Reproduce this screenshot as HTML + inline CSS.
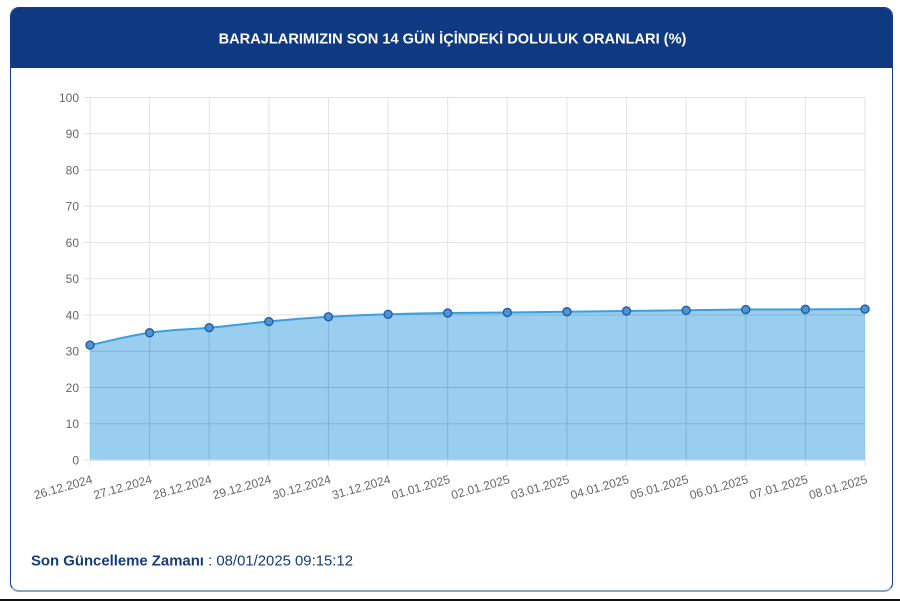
<!DOCTYPE html>
<html>
<head>
<meta charset="utf-8">
<style>
  html,body{margin:0;padding:0;background:#fff;}
  body{width:900px;height:601px;position:relative;overflow:hidden;font-family:"Liberation Sans",Arial,sans-serif;}
  .card{position:absolute;left:10px;top:7px;width:881px;height:582px;border:1.5px solid #123d86;border-bottom:2.5px solid #8aa2c6;border-radius:9px;background:#fff;overflow:hidden;}
  .hdr{position:absolute;left:0;top:0;right:0;height:60px;background:#0f3a82;}
  .bottomline{position:absolute;left:0;top:599px;width:900px;height:2px;background:#111;}
  svg{position:absolute;left:0;top:0;}
</style>
</head>
<body>
<div class="card"><div class="hdr"></div></div>
<div class="bottomline"></div>
<svg width="900" height="601" viewBox="0 0 900 601" xmlns="http://www.w3.org/2000/svg">
  <defs>
    <clipPath id="areaclip">
      <path d="M90,345.09 C113.85,340.16 125.77,336.24 149.62,332.76 C173.47,329.28 185.38,329.94 209.23,327.69 C233.08,325.44 245.0,323.70 268.85,321.52 C292.7,319.34 304.61,318.26 328.46,316.81 C352.31,315.36 364.23,315.03 388.08,314.27 C411.93,313.51 423.84,313.37 447.69,313.01 C471.54,312.65 483.46,312.71 507.31,312.46 C531.16,312.21 543.07,312.03 566.92,311.74 C590.77,311.45 602.69,311.30 626.54,311.01 C650.39,310.72 662.3,310.58 686.15,310.29 C710.0,310.0 721.92,309.74 745.77,309.56 C769.62,309.38 781.53,309.49 805.38,309.38 C829.23,309.27 841.15,309.16 865,309.02 L865,460 L90,460 Z"/>
    </clipPath>
  </defs>
  <text x="452.5" y="43.5" text-anchor="middle" font-family="Liberation Sans, Arial, sans-serif" font-weight="bold" font-size="14.6" fill="#ffffff">BARAJLARIMIZIN SON 14 GÜN İÇİNDEKİ DOLULUK ORANLARI (%)</text>

  <!-- grid -->
  <g stroke="#e3e3e3" stroke-width="1" fill="none">
    <line x1="84" y1="460" x2="865" y2="460"/>
    <line x1="84" y1="423.75" x2="865" y2="423.75"/>
    <line x1="84" y1="387.5" x2="865" y2="387.5"/>
    <line x1="84" y1="351.25" x2="865" y2="351.25"/>
    <line x1="84" y1="315" x2="865" y2="315"/>
    <line x1="84" y1="278.75" x2="865" y2="278.75"/>
    <line x1="84" y1="242.5" x2="865" y2="242.5"/>
    <line x1="84" y1="206.25" x2="865" y2="206.25"/>
    <line x1="84" y1="170" x2="865" y2="170"/>
    <line x1="84" y1="133.75" x2="865" y2="133.75"/>
    <line x1="84" y1="97.5" x2="865" y2="97.5"/>
    <line x1="90" y1="97.5" x2="90" y2="466"/>
    <line x1="149.62" y1="97.5" x2="149.62" y2="466"/>
    <line x1="209.23" y1="97.5" x2="209.23" y2="466"/>
    <line x1="268.85" y1="97.5" x2="268.85" y2="466"/>
    <line x1="328.46" y1="97.5" x2="328.46" y2="466"/>
    <line x1="388.08" y1="97.5" x2="388.08" y2="466"/>
    <line x1="447.69" y1="97.5" x2="447.69" y2="466"/>
    <line x1="507.31" y1="97.5" x2="507.31" y2="466"/>
    <line x1="566.92" y1="97.5" x2="566.92" y2="466"/>
    <line x1="626.54" y1="97.5" x2="626.54" y2="466"/>
    <line x1="686.15" y1="97.5" x2="686.15" y2="466"/>
    <line x1="745.77" y1="97.5" x2="745.77" y2="466"/>
    <line x1="805.38" y1="97.5" x2="805.38" y2="466"/>
    <line x1="865" y1="97.5" x2="865" y2="466"/>
  </g>

  <!-- y labels -->
  <g font-family="Liberation Sans, Arial, sans-serif" font-size="12" fill="#666" text-anchor="end">
    <text x="79" y="464.3">0</text>
    <text x="79" y="428">10</text>
    <text x="79" y="391.8">20</text>
    <text x="79" y="355.5">30</text>
    <text x="79" y="319.3">40</text>
    <text x="79" y="283">50</text>
    <text x="79" y="246.8">60</text>
    <text x="79" y="210.5">70</text>
    <text x="79" y="174.3">80</text>
    <text x="79" y="138">90</text>
    <text x="79" y="101.8">100</text>
  </g>

  <!-- area -->
  <path d="M90,345.09 C113.85,340.16 125.77,336.24 149.62,332.76 C173.47,329.28 185.38,329.94 209.23,327.69 C233.08,325.44 245.0,323.70 268.85,321.52 C292.7,319.34 304.61,318.26 328.46,316.81 C352.31,315.36 364.23,315.03 388.08,314.27 C411.93,313.51 423.84,313.37 447.69,313.01 C471.54,312.65 483.46,312.71 507.31,312.46 C531.16,312.21 543.07,312.03 566.92,311.74 C590.77,311.45 602.69,311.30 626.54,311.01 C650.39,310.72 662.3,310.58 686.15,310.29 C710.0,310.0 721.92,309.74 745.77,309.56 C769.62,309.38 781.53,309.49 805.38,309.38 C829.23,309.27 841.15,309.16 865,309.02 L865,460 L90,460 Z" fill="rgb(54,158,222)" fill-opacity="0.5" stroke="none"/>

  <!-- grid showing through fill -->
  <g clip-path="url(#areaclip)" stroke="rgba(30,80,130,0.11)" stroke-width="1" fill="none">
    <line x1="84" y1="423.75" x2="865" y2="423.75"/>
    <line x1="84" y1="387.5" x2="865" y2="387.5"/>
    <line x1="84" y1="351.25" x2="865" y2="351.25"/>
    <line x1="84" y1="315" x2="865" y2="315"/>
    <line x1="149.62" y1="97.5" x2="149.62" y2="466"/>
    <line x1="209.23" y1="97.5" x2="209.23" y2="466"/>
    <line x1="268.85" y1="97.5" x2="268.85" y2="466"/>
    <line x1="328.46" y1="97.5" x2="328.46" y2="466"/>
    <line x1="388.08" y1="97.5" x2="388.08" y2="466"/>
    <line x1="447.69" y1="97.5" x2="447.69" y2="466"/>
    <line x1="507.31" y1="97.5" x2="507.31" y2="466"/>
    <line x1="566.92" y1="97.5" x2="566.92" y2="466"/>
    <line x1="626.54" y1="97.5" x2="626.54" y2="466"/>
    <line x1="686.15" y1="97.5" x2="686.15" y2="466"/>
    <line x1="745.77" y1="97.5" x2="745.77" y2="466"/>
    <line x1="805.38" y1="97.5" x2="805.38" y2="466"/>
  </g>
  <line x1="90" y1="460" x2="865" y2="460" stroke="rgba(200,220,235,0.9)" stroke-width="1.5"/>

  <path d="M90,345.09 C113.85,340.16 125.77,336.24 149.62,332.76 C173.47,329.28 185.38,329.94 209.23,327.69 C233.08,325.44 245.0,323.70 268.85,321.52 C292.7,319.34 304.61,318.26 328.46,316.81 C352.31,315.36 364.23,315.03 388.08,314.27 C411.93,313.51 423.84,313.37 447.69,313.01 C471.54,312.65 483.46,312.71 507.31,312.46 C531.16,312.21 543.07,312.03 566.92,311.74 C590.77,311.45 602.69,311.30 626.54,311.01 C650.39,310.72 662.3,310.58 686.15,310.29 C710.0,310.0 721.92,309.74 745.77,309.56 C769.62,309.38 781.53,309.49 805.38,309.38 C829.23,309.27 841.15,309.16 865,309.02" fill="none" stroke="#3a9fe0" stroke-width="2"/>

  <!-- points -->
  <g fill="#4f93d4" stroke="#1f5fa5" stroke-width="1.4">
    <circle cx="90" cy="345.09" r="4"/>
    <circle cx="149.62" cy="332.76" r="4"/>
    <circle cx="209.23" cy="327.69" r="4"/>
    <circle cx="268.85" cy="321.52" r="4"/>
    <circle cx="328.46" cy="316.81" r="4"/>
    <circle cx="388.08" cy="314.27" r="4"/>
    <circle cx="447.69" cy="313.01" r="4"/>
    <circle cx="507.31" cy="312.46" r="4"/>
    <circle cx="566.92" cy="311.74" r="4"/>
    <circle cx="626.54" cy="311.01" r="4"/>
    <circle cx="686.15" cy="310.29" r="4"/>
    <circle cx="745.77" cy="309.56" r="4"/>
    <circle cx="805.38" cy="309.38" r="4"/>
    <circle cx="865" cy="309.02" r="4"/>
  </g>

  <!-- x labels -->
  <g font-family="Liberation Sans, Arial, sans-serif" font-size="12" fill="#666" text-anchor="end" dominant-baseline="central">
    <text transform="translate(92,479) rotate(-16)">26.12.2024</text>
    <text transform="translate(151.62,479) rotate(-16)">27.12.2024</text>
    <text transform="translate(211.23,479) rotate(-16)">28.12.2024</text>
    <text transform="translate(270.85,479) rotate(-16)">29.12.2024</text>
    <text transform="translate(330.46,479) rotate(-16)">30.12.2024</text>
    <text transform="translate(390.08,479) rotate(-16)">31.12.2024</text>
    <text transform="translate(449.69,479) rotate(-16)">01.01.2025</text>
    <text transform="translate(509.31,479) rotate(-16)">02.01.2025</text>
    <text transform="translate(568.92,479) rotate(-16)">03.01.2025</text>
    <text transform="translate(628.54,479) rotate(-16)">04.01.2025</text>
    <text transform="translate(688.15,479) rotate(-16)">05.01.2025</text>
    <text transform="translate(747.77,479) rotate(-16)">06.01.2025</text>
    <text transform="translate(807.38,479) rotate(-16)">07.01.2025</text>
    <text transform="translate(867,479) rotate(-16)">08.01.2025</text>
  </g>

  <!-- footer -->
  <text x="31" y="565.7" font-family="Liberation Sans, Arial, sans-serif" font-size="14.9" fill="#163b7c"><tspan font-weight="bold">Son Güncelleme Zamanı</tspan><tspan> : 08/01/2025 09:15:12</tspan></text>
</svg>
</body>
</html>
